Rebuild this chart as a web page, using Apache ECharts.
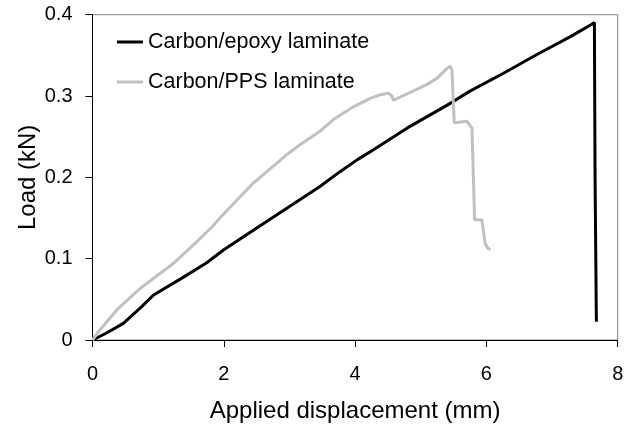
<!DOCTYPE html>
<html>
<head>
<meta charset="utf-8">
<script src="https://cdn.jsdelivr.net/npm/echarts@6/dist/echarts.min.js"></script>
<style>
html,body{margin:0;padding:0;background:#fff;}
#c{width:635px;height:428px;}
</style>
</head>
<body>
<div id="c"></div>
<script>
var seriesNames = ['Carbon/epoxy laminate', 'Carbon/PPS laminate'];
var xTicks = [0, 2, 4, 6, 8];
var yTicks = [0, 0.1, 0.2, 0.3, 0.4];

var epoxyX = [0, 0.2, 0.47, 0.75, 0.93, 1.38, 1.74, 2.0, 2.45, 2.96, 3.47, 3.77, 4.03, 4.28, 4.79, 5.45, 5.75, 6.26, 6.77, 7.28, 7.6, 7.645, 7.655, 7.675, 7.675];
var epoxyY = [0, 0.008, 0.0205, 0.041, 0.0554, 0.077, 0.095, 0.111, 0.135, 0.162, 0.189, 0.207, 0.2215, 0.234, 0.2605, 0.291, 0.306, 0.328, 0.351, 0.373, 0.388, 0.3905, 0.203, 0.203, 0.0225];

var ppsX = [0, 0.12, 0.37, 0.72, 1.23, 1.59, 1.82, 1.94, 2.45, 2.96, 3.16, 3.47, 3.67, 3.98, 4.23, 4.38, 4.51, 4.55, 4.585, 4.79, 5.09, 5.25, 5.40, 5.45, 5.475, 5.51, 5.60, 5.70, 5.78, 5.82, 5.93, 5.98, 6.02, 6.06];
var ppsY = [0, 0.013, 0.037, 0.063, 0.094, 0.121, 0.139, 0.150, 0.193, 0.228, 0.240, 0.257, 0.271, 0.287, 0.297, 0.3015, 0.3035, 0.301, 0.295, 0.3025, 0.314, 0.322, 0.334, 0.3365, 0.332, 0.267, 0.268, 0.269, 0.2605, 0.148, 0.148, 0.119, 0.113, 0.111];

function pairs(xs, ys) { return xs.map(function (x, i) { return [x, ys[i]]; }); }

var chart = echarts.init(document.getElementById('c'), null, {renderer: 'canvas'});
var font = 'Liberation Sans, Arial, sans-serif';
chart.setOption({
  animation: false,
  backgroundColor: '#ffffff',
  grid: {left: 92.5, right: 17.3, top: 14.7, bottom: 88, show: true, borderColor: '#808080', borderWidth: 1},
  legend: {
    orient: 'vertical', left: 117, top: 31, padding: 0, itemWidth: 26, itemHeight: 3, itemGap: 18,
    icon: 'rect',
    textStyle: {fontFamily: font, fontSize: 21.5, color: '#000', lineHeight: 22},
    data: seriesNames
  },
  xAxis: {
    type: 'value', min: xTicks[0], max: xTicks[xTicks.length - 1], interval: 2,
    name: 'Applied displacement (mm)', nameLocation: 'middle', nameGap: 59, nameMoveOverlap: false,
    nameTextStyle: {fontFamily: font, fontSize: 24, color: '#000'},
    axisLine: {show: true, onZero: false, lineStyle: {color: '#000', width: 1}},
    axisTick: {show: true, inside: false, length: 7, lineStyle: {color: '#000'}},
    axisLabel: {fontFamily: font, fontSize: 20, color: '#000', margin: 24},
    splitLine: {show: false}
  },
  yAxis: {
    type: 'value', min: yTicks[0], max: yTicks[yTicks.length - 1], interval: 0.1,
    name: 'Load (kN)', nameLocation: 'middle', nameGap: 52, nameRotate: 90, nameMoveOverlap: false,
    nameTextStyle: {fontFamily: font, fontSize: 24, color: '#000'},
    axisLine: {show: true, onZero: false, lineStyle: {color: '#000', width: 1}},
    axisTick: {show: true, inside: false, length: 7, lineStyle: {color: '#000'}},
    axisLabel: {fontFamily: font, fontSize: 20, color: '#000', margin: 20,
      formatter: function (v) { return String(Math.round(v * 10) / 10); }},
    splitLine: {show: false}
  },
  series: [
    {name: seriesNames[0], type: 'line', data: pairs(epoxyX, epoxyY), symbol: 'none', smooth: false,
     lineStyle: {color: '#000000', width: 3}, itemStyle: {color: '#000000'}},
    {name: seriesNames[1], type: 'line', data: pairs(ppsX, ppsY), symbol: 'none', smooth: false,
     lineStyle: {color: '#c0c0c0', width: 3}, itemStyle: {color: '#c0c0c0'}}
  ]
});
</script>
</body>
</html>
